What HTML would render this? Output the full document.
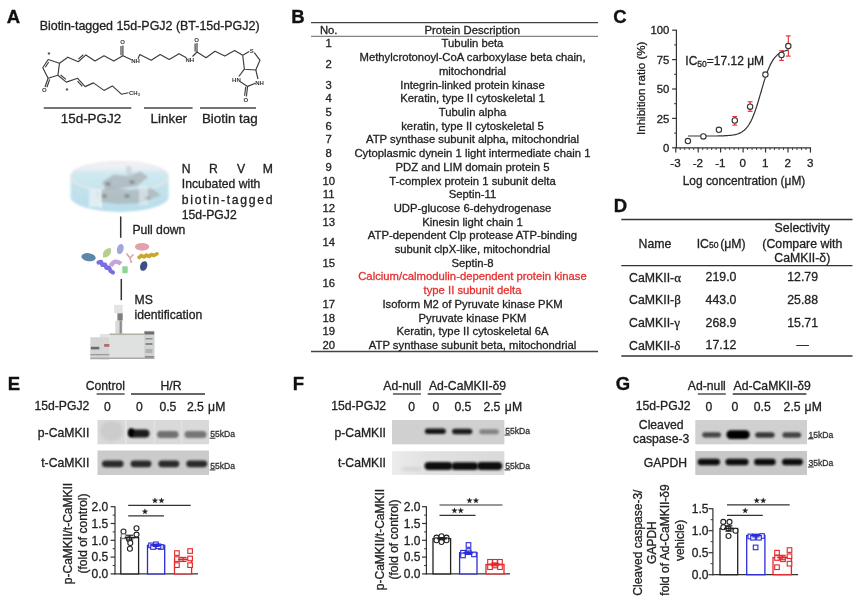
<!DOCTYPE html>
<html><head><meta charset="utf-8"><title>Figure</title>
<style>html,body{margin:0;padding:0;background:#fff;} svg{display:block;filter:blur(0.35px);}</style>
</head><body>
<svg width="861" height="612" viewBox="0 0 861 612" font-family="'Liberation Sans', Arial, sans-serif">
<defs>
<filter id="blur1" x="-30%" y="-80%" width="160%" height="260%"><feGaussianBlur stdDeviation="0.9"/></filter>
<filter id="blur2" x="-30%" y="-60%" width="160%" height="220%"><feGaussianBlur stdDeviation="3"/></filter>
<clipPath id="cE1"><rect x="97.5" y="420" width="111.5" height="24.3"/></clipPath>
<filter id="blur3" x="-20%" y="-30%" width="140%" height="160%"><feGaussianBlur stdDeviation="1.6"/></filter>
<filter id="soft" x="-20%" y="-20%" width="140%" height="140%"><feGaussianBlur stdDeviation="0.5"/></filter>
<filter id="soft2" x="-10%" y="-20%" width="120%" height="140%"><feGaussianBlur stdDeviation="0.8"/></filter>
</defs>
<rect width="861" height="612" fill="#fff"/>
<text x="6.80" y="22.90" font-size="18.5" font-weight="bold" fill="#111" stroke="#111" stroke-width="0.35">A</text>
<text x="291.20" y="22.90" font-size="18.5" font-weight="bold" fill="#111" stroke="#111" stroke-width="0.35">B</text>
<text x="613.20" y="22.70" font-size="18.5" font-weight="bold" fill="#111" stroke="#111" stroke-width="0.35">C</text>
<text x="613.80" y="211.60" font-size="18.5" font-weight="bold" fill="#111" stroke="#111" stroke-width="0.35">D</text>
<text x="7.80" y="389.70" font-size="18.5" font-weight="bold" fill="#111" stroke="#111" stroke-width="0.35">E</text>
<text x="292.80" y="389.70" font-size="18.5" font-weight="bold" fill="#111" stroke="#111" stroke-width="0.35">F</text>
<text x="615.80" y="389.50" font-size="18.5" font-weight="bold" fill="#111" stroke="#111" stroke-width="0.35">G</text>
<text x="39.70" y="29.60" font-size="12.45" fill="#222" stroke="#222" stroke-width="0.3" >Biotin-tagged 15d-PGJ2 (BT-15d-PGJ2)</text>
<polyline points="48.1,59.5 59.5,63.2 57.9,75.3 48.1,78.3 42.8,67.8 48.1,59.5" fill="none" stroke="#3c3c3c" stroke-width="1.15" stroke-linejoin="round" />
<polyline points="45.4,67.3 48.7,62.0" fill="none" stroke="#3c3c3c" stroke-width="1.15" stroke-linejoin="round" />
<polyline points="48.1,78.3 45.0,87.0" fill="none" stroke="#3c3c3c" stroke-width="1.15" stroke-linejoin="round" />
<polyline points="49.7,79.4 46.9,87.2" fill="none" stroke="#3c3c3c" stroke-width="1.15" stroke-linejoin="round" />
<polyline points="59.5,63.2 67.8,57.2 78.3,61.7 85.9,54.9 95.0,61.0 104.0,55.7 113.8,61.0 122.9,55.7 131.5,59.8" fill="none" stroke="#3c3c3c" stroke-width="1.15" stroke-linejoin="round" />
<polyline points="78.4,59.1 83.3,54.7" fill="none" stroke="#3c3c3c" stroke-width="1.15" stroke-linejoin="round" />
<polyline points="122.9,55.7 122.9,45.5" fill="none" stroke="#3c3c3c" stroke-width="1.15" stroke-linejoin="round" />
<polyline points="121.0,55.2 121.0,46.0" fill="none" stroke="#3c3c3c" stroke-width="1.15" stroke-linejoin="round" />
<polyline points="57.9,75.3 66.3,82.1 77.6,78.3 85.1,86.6 93.4,82.9 104.0,90.4 112.3,85.9 121.4,94.2 128.5,92.8" fill="none" stroke="#3c3c3c" stroke-width="1.15" stroke-linejoin="round" />
<polyline points="60.6,75.0 66.0,79.4" fill="none" stroke="#3c3c3c" stroke-width="1.15" stroke-linejoin="round" />
<polyline points="77.5,81.1 82.3,86.4" fill="none" stroke="#3c3c3c" stroke-width="1.15" stroke-linejoin="round" />
<polyline points="138.0,58.8 139.8,54.5 151.2,60.2 160.2,54.5 169.2,59.4 179.0,53.7 186.4,57.8" fill="none" stroke="#3c3c3c" stroke-width="1.15" stroke-linejoin="round" />
<polyline points="192.5,56.5 197.0,52.0 206.0,57.8 215.0,51.2 224.8,56.1 234.6,50.4 242.7,55.3" fill="none" stroke="#3c3c3c" stroke-width="1.15" stroke-linejoin="round" />
<polyline points="197.0,52.0 197.0,43.0" fill="none" stroke="#3c3c3c" stroke-width="1.15" stroke-linejoin="round" />
<polyline points="195.1,51.5 195.1,43.5" fill="none" stroke="#3c3c3c" stroke-width="1.15" stroke-linejoin="round" />
<polyline points="242.7,55.3 249.2,51.6" fill="none" stroke="#3c3c3c" stroke-width="1.15" stroke-linejoin="round" />
<polyline points="254.3,52.6 259.9,60.2 255.8,70.0 244.4,69.2 242.7,55.3" fill="none" stroke="#3c3c3c" stroke-width="1.15" stroke-linejoin="round" />
<polyline points="244.4,69.2 238.8,76.5" fill="none" stroke="#3c3c3c" stroke-width="1.15" stroke-linejoin="round" />
<polyline points="255.8,70.0 258.0,79.0" fill="none" stroke="#3c3c3c" stroke-width="1.15" stroke-linejoin="round" />
<polyline points="240.0,81.5 247.6,86.4 255.5,83.2" fill="none" stroke="#3c3c3c" stroke-width="1.15" stroke-linejoin="round" />
<polyline points="247.6,86.4 246.4,96.5" fill="none" stroke="#3c3c3c" stroke-width="1.15" stroke-linejoin="round" />
<polyline points="245.7,86.7 244.6,95.8" fill="none" stroke="#3c3c3c" stroke-width="1.15" stroke-linejoin="round" />
<text x="44.30" y="92.40" font-size="6.0" text-anchor="middle" font-weight="bold" fill="#333">O</text>
<text x="122.60" y="44.20" font-size="6.0" text-anchor="middle" font-weight="bold" fill="#333">O</text>
<text x="196.60" y="42.00" font-size="6.0" text-anchor="middle" font-weight="bold" fill="#333">O</text>
<text x="245.80" y="102.30" font-size="6.0" text-anchor="middle" font-weight="bold" fill="#333">O</text>
<text x="135.60" y="63.00" font-size="6.0" text-anchor="middle" font-weight="bold" fill="#333">NH</text>
<text x="189.80" y="62.00" font-size="6.0" text-anchor="middle" font-weight="bold" fill="#333">NH</text>
<text x="251.80" y="53.30" font-size="6.0" text-anchor="middle" font-weight="bold" fill="#333">S</text>
<text x="236.40" y="81.60" font-size="6.0" text-anchor="middle" font-weight="bold" fill="#333">HN</text>
<text x="259.60" y="84.70" font-size="6.0" text-anchor="middle" font-weight="bold" fill="#333">NH</text>
<text x="129.0" y="94.6" font-size="6" font-weight="bold" fill="#333">CH<tspan font-size="4" dy="1">3</tspan></text>
<text x="48.90" y="57.00" font-size="7.5" text-anchor="middle" font-weight="bold" fill="#333">*</text>
<text x="67.00" y="92.80" font-size="7.5" text-anchor="middle" font-weight="bold" fill="#333">*</text>
<line x1="43.80" y1="108.00" x2="131.30" y2="108.00" stroke="#444" stroke-width="1.3" />
<line x1="144.00" y1="108.00" x2="192.60" y2="108.00" stroke="#444" stroke-width="1.3" />
<line x1="200.00" y1="108.00" x2="256.00" y2="108.00" stroke="#444" stroke-width="1.3" />
<text x="60.80" y="123.00" font-size="13.4" fill="#222" stroke="#222" stroke-width="0.3" >15d-PGJ2</text>
<text x="150.60" y="122.60" font-size="13.4" fill="#222" stroke="#222" stroke-width="0.3" >Linker</text>
<text x="201.90" y="122.60" font-size="13.4" fill="#222" stroke="#222" stroke-width="0.3" >Biotin tag</text>
<defs><linearGradient id="dishTop" x1="0" x2="0" y1="0" y2="1"><stop offset="0" stop-color="#f4f1f3"/><stop offset="0.22" stop-color="#e8f1f4"/><stop offset="0.4" stop-color="#cfe8f0"/><stop offset="1" stop-color="#c6e4ee"/></linearGradient><linearGradient id="dishSide" x1="0" x2="0" y1="0" y2="1"><stop offset="0" stop-color="#cbe6ef"/><stop offset="1" stop-color="#b9deea"/></linearGradient></defs>
<g filter="url(#soft2)">
<path d="M70.6,176.5 A49,15 0 0 1 168.6,176.5 L168.6,197 A49,15 0 0 1 70.6,197 Z" fill="url(#dishSide)"/>
<ellipse cx="119.6" cy="176.5" rx="49" ry="15" fill="url(#dishTop)" stroke="#f0e6ea" stroke-width="1.2"/>
<path d="M102,182 L114,174.5 L127,176 L141,171.5 L148,177 L137,186 L121,188 L106,190 Z" fill="#a8aeb2" opacity="0.7"/>
<path d="M95,192 L112,187 L130,190 L151,188 L161,195 L141,203 L118,204 L100,202 Z" fill="#aab1b4" opacity="0.7"/>
<path d="M126,166 L131,166 L132,177 L127,178 Z" fill="#c3c9cb" opacity="0.6"/>
<ellipse cx="108" cy="184" rx="2.8" ry="2.0" fill="#858d91" opacity="0.9"/>
<ellipse cx="132" cy="182" rx="2.8" ry="2.0" fill="#858d91" opacity="0.9"/>
<ellipse cx="104" cy="196" rx="2.8" ry="2.0" fill="#858d91" opacity="0.9"/>
<ellipse cx="127" cy="196" rx="2.8" ry="2.0" fill="#858d91" opacity="0.9"/>
<ellipse cx="147" cy="198" rx="2.8" ry="2.0" fill="#858d91" opacity="0.9"/>
<rect x="89" y="189" width="12" height="18" fill="#edf4f6" opacity="0.7"/>
<rect x="100" y="190" width="1.4" height="18" fill="#ffffff" opacity="0.8"/>
<rect x="139" y="186" width="9" height="19" fill="#edf4f6" opacity="0.55"/>
</g>
<text x="181.80" y="173.00" font-size="12.2" fill="#222" stroke="#222" stroke-width="0.3" >N</text>
<text x="209.00" y="173.00" font-size="12.2" fill="#222" stroke="#222" stroke-width="0.3" >R</text>
<text x="236.90" y="173.00" font-size="12.2" fill="#222" stroke="#222" stroke-width="0.3" >V</text>
<text x="262.70" y="173.00" font-size="12.2" fill="#222" stroke="#222" stroke-width="0.3" >M</text>
<text x="181.80" y="188.30" font-size="12.2" fill="#222" stroke="#222" stroke-width="0.3" >Incubated with</text>
<text x="181.80" y="203.70" font-size="12.2" fill="#222" stroke="#222" stroke-width="0.3" letter-spacing="1.68">biotin-tagged</text>
<text x="181.80" y="218.60" font-size="12.2" fill="#222" stroke="#222" stroke-width="0.3" >15d-PGJ2</text>
<line x1="120.70" y1="216.50" x2="120.70" y2="237.80" stroke="#333" stroke-width="1.5" />
<text x="132.40" y="234.40" font-size="12.2" fill="#222" stroke="#222" stroke-width="0.3" >Pull down</text>
<g filter="url(#soft)">
<ellipse cx="88.5" cy="257.2" rx="7.2" ry="4.0" fill="#5b87a6" transform="rotate(8 88.5 257.2)"/>
<path d="M103,257.5 Q102,250 107.5,248.5 Q112,246.5 111,252 Q110,257.5 103,257.5 Z" fill="#b5d08e"/>
<ellipse cx="120.3" cy="249" rx="3.3" ry="5.2" fill="#a1a9db" transform="rotate(15 120.3 249)"/>
<ellipse cx="142.1" cy="246.8" rx="7.2" ry="3.9" fill="#e3a1ae"/>
<path d="M139,257.5 L141.5,255.5 L144,257 L146.5,255 L149,256.5 L151.5,254.5 L154,255.5 L157,253.8" stroke="#c8a72c" stroke-width="3.6" fill="none" stroke-linecap="round" stroke-linejoin="round"/>
<path d="M126.5,253.5 L130,258 L133.5,254.5 M130,258 L131.5,263" stroke="#d8a6b6" stroke-width="1.7" fill="none"/>
<path d="M98.5,262.5 L101,261.8 L102.5,265 L105,264.5 L106.5,268 L109,267.5 L110.5,271 L113,272.5" stroke="#7a6ee0" stroke-width="4.2" fill="none" stroke-linecap="round" stroke-linejoin="round"/>
<path d="M110.8,266 Q114.5,258.5 121,263.8" stroke="#c3a6d8" stroke-width="4.4" fill="none"/>
<rect x="122.3" y="266.3" width="5.4" height="7" rx="1" fill="#8fd39b"/>
<ellipse cx="143.7" cy="266" rx="3.5" ry="5.0" fill="#3e4f86" transform="rotate(20 143.7 266)"/>
</g>
<line x1="121.30" y1="279.00" x2="121.30" y2="300.20" stroke="#333" stroke-width="1.5" />
<text x="134.50" y="304.40" font-size="12.2" fill="#222" stroke="#222" stroke-width="0.3" >MS</text>
<text x="134.50" y="319.20" font-size="12.2" fill="#222" stroke="#222" stroke-width="0.3" >identification</text>
<g>
<rect x="114.20" y="304.80" width="8.50" height="8.50" fill="#e2e4e4" />
<rect x="117.40" y="313.30" width="5.30" height="7.40" fill="#7e8080" />
<rect x="115.30" y="320.70" width="7.20" height="13.50" fill="#d8dada" />
<rect x="119.60" y="320.70" width="2.20" height="13.50" fill="#8a8c8c" />
<rect x="109.40" y="333.60" width="34.60" height="25.40" fill="#dfe1e1" />
<line x1="109.40" y1="334.20" x2="144.00" y2="334.20" stroke="#9a9a88" stroke-width="1.0" />
<rect x="144.00" y="330.80" width="10.60" height="28.20" fill="#d2d4d4" />
<rect x="144.50" y="331.50" width="9.60" height="3.00" fill="#6e7070" />
<rect x="145.50" y="338.00" width="7.00" height="1.50" fill="#909090" />
<rect x="145.50" y="343.00" width="7.00" height="2.00" fill="#8a8a8a" />
<rect x="145.50" y="349.00" width="7.00" height="4.00" fill="#b0b2b2" />
<rect x="145.00" y="356.00" width="9.00" height="2.50" fill="#8a8c8c" />
<rect x="99.90" y="334.00" width="9.50" height="25.40" fill="#e8e0e2" />
<rect x="90.30" y="337.20" width="19.10" height="22.30" fill="#d4d6d6" />
<rect x="90.80" y="346.80" width="8.50" height="2.60" fill="#6a6a6a" />
<rect x="104.10" y="344.00" width="5.30" height="2.80" fill="#b76a70" />
<rect x="90.30" y="354.00" width="19.00" height="1.30" fill="#9a9a9a" />
<rect x="90.30" y="357.50" width="64.00" height="1.50" fill="#a8aaaa" />
</g>
<line x1="311.00" y1="22.70" x2="598.00" y2="22.70" stroke="#444" stroke-width="1.3" />
<line x1="311.00" y1="36.30" x2="598.00" y2="36.30" stroke="#666" stroke-width="1.0" />
<line x1="311.00" y1="351.60" x2="598.00" y2="351.60" stroke="#444" stroke-width="1.5" />
<text x="328.70" y="34.30" font-size="11.3" text-anchor="middle" fill="#222" stroke="#222" stroke-width="0.3" >No.</text>
<text x="472.30" y="34.30" font-size="11.3" text-anchor="middle" fill="#222" stroke="#222" stroke-width="0.3" >Protein Description</text>
<text x="328.70" y="47.40" font-size="11.3" text-anchor="middle" fill="#222" stroke="#222" stroke-width="0.3" >1</text>
<text x="472.50" y="47.40" font-size="11.3" text-anchor="middle" fill="#222" stroke="#222" stroke-width="0.3" >Tubulin beta</text>
<text x="328.70" y="67.97" font-size="11.3" text-anchor="middle" fill="#222" stroke="#222" stroke-width="0.3" >2</text>
<text x="472.50" y="61.11" font-size="11.3" text-anchor="middle" fill="#222" stroke="#222" stroke-width="0.3" >Methylcrotonoyl-CoA carboxylase beta chain,</text>
<text x="472.50" y="74.82" font-size="11.3" text-anchor="middle" fill="#222" stroke="#222" stroke-width="0.3" >mitochondrial</text>
<text x="328.70" y="88.53" font-size="11.3" text-anchor="middle" fill="#222" stroke="#222" stroke-width="0.3" >3</text>
<text x="472.50" y="88.53" font-size="11.3" text-anchor="middle" fill="#222" stroke="#222" stroke-width="0.3" >Integrin-linked protein kinase</text>
<text x="328.70" y="102.24" font-size="11.3" text-anchor="middle" fill="#222" stroke="#222" stroke-width="0.3" >4</text>
<text x="472.50" y="102.24" font-size="11.3" text-anchor="middle" fill="#222" stroke="#222" stroke-width="0.3" >Keratin, type II cytoskeletal 1</text>
<text x="328.70" y="115.95" font-size="11.3" text-anchor="middle" fill="#222" stroke="#222" stroke-width="0.3" >5</text>
<text x="472.50" y="115.95" font-size="11.3" text-anchor="middle" fill="#222" stroke="#222" stroke-width="0.3" >Tubulin alpha</text>
<text x="328.70" y="129.66" font-size="11.3" text-anchor="middle" fill="#222" stroke="#222" stroke-width="0.3" >6</text>
<text x="472.50" y="129.66" font-size="11.3" text-anchor="middle" fill="#222" stroke="#222" stroke-width="0.3" >keratin, type II cytoskeletal 5</text>
<text x="328.70" y="143.37" font-size="11.3" text-anchor="middle" fill="#222" stroke="#222" stroke-width="0.3" >7</text>
<text x="472.50" y="143.37" font-size="11.3" text-anchor="middle" fill="#222" stroke="#222" stroke-width="0.3" >ATP synthase subunit alpha, mitochondrial</text>
<text x="328.70" y="157.08" font-size="11.3" text-anchor="middle" fill="#222" stroke="#222" stroke-width="0.3" >8</text>
<text x="472.50" y="157.08" font-size="11.3" text-anchor="middle" fill="#222" stroke="#222" stroke-width="0.3" >Cytoplasmic dynein 1 light intermediate chain 1</text>
<text x="328.70" y="170.79" font-size="11.3" text-anchor="middle" fill="#222" stroke="#222" stroke-width="0.3" >9</text>
<text x="472.50" y="170.79" font-size="11.3" text-anchor="middle" fill="#222" stroke="#222" stroke-width="0.3" >PDZ and LIM domain protein 5</text>
<text x="328.70" y="184.50" font-size="11.3" text-anchor="middle" fill="#222" stroke="#222" stroke-width="0.3" >10</text>
<text x="472.50" y="184.50" font-size="11.3" text-anchor="middle" fill="#222" stroke="#222" stroke-width="0.3" >T-complex protein 1 subunit delta</text>
<text x="328.70" y="198.21" font-size="11.3" text-anchor="middle" fill="#222" stroke="#222" stroke-width="0.3" >11</text>
<text x="472.50" y="198.21" font-size="11.3" text-anchor="middle" fill="#222" stroke="#222" stroke-width="0.3" >Septin-11</text>
<text x="328.70" y="211.92" font-size="11.3" text-anchor="middle" fill="#222" stroke="#222" stroke-width="0.3" >12</text>
<text x="472.50" y="211.92" font-size="11.3" text-anchor="middle" fill="#222" stroke="#222" stroke-width="0.3" >UDP-glucose 6-dehydrogenase</text>
<text x="328.70" y="225.63" font-size="11.3" text-anchor="middle" fill="#222" stroke="#222" stroke-width="0.3" >13</text>
<text x="472.50" y="225.63" font-size="11.3" text-anchor="middle" fill="#222" stroke="#222" stroke-width="0.3" >Kinesin light chain 1</text>
<text x="328.70" y="246.20" font-size="11.3" text-anchor="middle" fill="#222" stroke="#222" stroke-width="0.3" >14</text>
<text x="472.50" y="239.34" font-size="11.3" text-anchor="middle" fill="#222" stroke="#222" stroke-width="0.3" >ATP-dependent Clp protease ATP-binding</text>
<text x="472.50" y="253.05" font-size="11.3" text-anchor="middle" fill="#222" stroke="#222" stroke-width="0.3" >subunit clpX-like, mitochondrial</text>
<text x="328.70" y="266.76" font-size="11.3" text-anchor="middle" fill="#222" stroke="#222" stroke-width="0.3" >15</text>
<text x="472.50" y="266.76" font-size="11.3" text-anchor="middle" fill="#222" stroke="#222" stroke-width="0.3" >Septin-8</text>
<text x="328.70" y="287.33" font-size="11.3" text-anchor="middle" fill="#222" stroke="#222" stroke-width="0.3" >16</text>
<text x="472.50" y="280.47" font-size="11.3" text-anchor="middle" fill="#e5302f" stroke="#e5302f" stroke-width="0.3" >Calcium/calmodulin-dependent protein kinase</text>
<text x="472.50" y="294.18" font-size="11.3" text-anchor="middle" fill="#e5302f" stroke="#e5302f" stroke-width="0.3" >type II subunit delta</text>
<text x="328.70" y="307.89" font-size="11.3" text-anchor="middle" fill="#222" stroke="#222" stroke-width="0.3" >17</text>
<text x="472.50" y="307.89" font-size="11.3" text-anchor="middle" fill="#222" stroke="#222" stroke-width="0.3" >Isoform M2 of Pyruvate kinase PKM</text>
<text x="328.70" y="321.60" font-size="11.3" text-anchor="middle" fill="#222" stroke="#222" stroke-width="0.3" >18</text>
<text x="472.50" y="321.60" font-size="11.3" text-anchor="middle" fill="#222" stroke="#222" stroke-width="0.3" >Pyruvate kinase PKM</text>
<text x="328.70" y="335.31" font-size="11.3" text-anchor="middle" fill="#222" stroke="#222" stroke-width="0.3" >19</text>
<text x="472.50" y="335.31" font-size="11.3" text-anchor="middle" fill="#222" stroke="#222" stroke-width="0.3" >Keratin, type II cytoskeletal 6A</text>
<text x="328.70" y="349.02" font-size="11.3" text-anchor="middle" fill="#222" stroke="#222" stroke-width="0.3" >20</text>
<text x="472.50" y="349.02" font-size="11.3" text-anchor="middle" fill="#222" stroke="#222" stroke-width="0.3" >ATP synthase subunit beta, mitochondrial</text>
<line x1="676.40" y1="29.70" x2="676.40" y2="147.80" stroke="#333" stroke-width="1.2" />
<line x1="672.10" y1="147.80" x2="676.40" y2="147.80" stroke="#333" stroke-width="1.2" />
<text x="669.40" y="151.90" font-size="11.3" text-anchor="end" fill="#222" stroke="#222" stroke-width="0.3" >0</text>
<line x1="672.10" y1="118.40" x2="676.40" y2="118.40" stroke="#333" stroke-width="1.2" />
<text x="669.40" y="122.50" font-size="11.3" text-anchor="end" fill="#222" stroke="#222" stroke-width="0.3" >25</text>
<line x1="672.10" y1="89.00" x2="676.40" y2="89.00" stroke="#333" stroke-width="1.2" />
<text x="669.40" y="93.10" font-size="11.3" text-anchor="end" fill="#222" stroke="#222" stroke-width="0.3" >50</text>
<line x1="672.10" y1="59.60" x2="676.40" y2="59.60" stroke="#333" stroke-width="1.2" />
<text x="669.40" y="63.70" font-size="11.3" text-anchor="end" fill="#222" stroke="#222" stroke-width="0.3" >75</text>
<line x1="672.10" y1="30.20" x2="676.40" y2="30.20" stroke="#333" stroke-width="1.2" />
<text x="669.40" y="34.30" font-size="11.3" text-anchor="end" fill="#222" stroke="#222" stroke-width="0.3" >100</text>
<line x1="674.10" y1="133.10" x2="676.40" y2="133.10" stroke="#333" stroke-width="1.0" />
<line x1="674.10" y1="103.70" x2="676.40" y2="103.70" stroke="#333" stroke-width="1.0" />
<line x1="674.10" y1="74.30" x2="676.40" y2="74.30" stroke="#333" stroke-width="1.0" />
<line x1="674.10" y1="44.90" x2="676.40" y2="44.90" stroke="#333" stroke-width="1.0" />
<line x1="675.80" y1="147.80" x2="811.05" y2="147.80" stroke="#333" stroke-width="1.2" />
<line x1="675.75" y1="147.80" x2="675.75" y2="152.60" stroke="#333" stroke-width="1.2" />
<text x="675.45" y="167.40" font-size="11.6" text-anchor="middle" fill="#222" stroke="#222" stroke-width="0.3" >-3</text>
<line x1="698.20" y1="147.80" x2="698.20" y2="152.60" stroke="#333" stroke-width="1.2" />
<text x="697.90" y="167.40" font-size="11.6" text-anchor="middle" fill="#222" stroke="#222" stroke-width="0.3" >-2</text>
<line x1="720.65" y1="147.80" x2="720.65" y2="152.60" stroke="#333" stroke-width="1.2" />
<text x="720.35" y="167.40" font-size="11.6" text-anchor="middle" fill="#222" stroke="#222" stroke-width="0.3" >-1</text>
<line x1="743.10" y1="147.80" x2="743.10" y2="152.60" stroke="#333" stroke-width="1.2" />
<text x="742.80" y="167.40" font-size="11.6" text-anchor="middle" fill="#222" stroke="#222" stroke-width="0.3" >0</text>
<line x1="765.55" y1="147.80" x2="765.55" y2="152.60" stroke="#333" stroke-width="1.2" />
<text x="765.25" y="167.40" font-size="11.6" text-anchor="middle" fill="#222" stroke="#222" stroke-width="0.3" >1</text>
<line x1="788.00" y1="147.80" x2="788.00" y2="152.60" stroke="#333" stroke-width="1.2" />
<text x="787.70" y="167.40" font-size="11.6" text-anchor="middle" fill="#222" stroke="#222" stroke-width="0.3" >2</text>
<line x1="810.45" y1="147.80" x2="810.45" y2="152.60" stroke="#333" stroke-width="1.2" />
<text x="810.15" y="167.40" font-size="11.6" text-anchor="middle" fill="#222" stroke="#222" stroke-width="0.3" >3</text>
<line x1="680.24" y1="147.80" x2="680.24" y2="150.00" stroke="#333" stroke-width="0.9" />
<line x1="684.73" y1="147.80" x2="684.73" y2="150.00" stroke="#333" stroke-width="0.9" />
<line x1="689.22" y1="147.80" x2="689.22" y2="150.00" stroke="#333" stroke-width="0.9" />
<line x1="693.71" y1="147.80" x2="693.71" y2="150.00" stroke="#333" stroke-width="0.9" />
<line x1="702.69" y1="147.80" x2="702.69" y2="150.00" stroke="#333" stroke-width="0.9" />
<line x1="707.18" y1="147.80" x2="707.18" y2="150.00" stroke="#333" stroke-width="0.9" />
<line x1="711.67" y1="147.80" x2="711.67" y2="150.00" stroke="#333" stroke-width="0.9" />
<line x1="716.16" y1="147.80" x2="716.16" y2="150.00" stroke="#333" stroke-width="0.9" />
<line x1="725.14" y1="147.80" x2="725.14" y2="150.00" stroke="#333" stroke-width="0.9" />
<line x1="729.63" y1="147.80" x2="729.63" y2="150.00" stroke="#333" stroke-width="0.9" />
<line x1="734.12" y1="147.80" x2="734.12" y2="150.00" stroke="#333" stroke-width="0.9" />
<line x1="738.61" y1="147.80" x2="738.61" y2="150.00" stroke="#333" stroke-width="0.9" />
<line x1="747.59" y1="147.80" x2="747.59" y2="150.00" stroke="#333" stroke-width="0.9" />
<line x1="752.08" y1="147.80" x2="752.08" y2="150.00" stroke="#333" stroke-width="0.9" />
<line x1="756.57" y1="147.80" x2="756.57" y2="150.00" stroke="#333" stroke-width="0.9" />
<line x1="761.06" y1="147.80" x2="761.06" y2="150.00" stroke="#333" stroke-width="0.9" />
<line x1="770.04" y1="147.80" x2="770.04" y2="150.00" stroke="#333" stroke-width="0.9" />
<line x1="774.53" y1="147.80" x2="774.53" y2="150.00" stroke="#333" stroke-width="0.9" />
<line x1="779.02" y1="147.80" x2="779.02" y2="150.00" stroke="#333" stroke-width="0.9" />
<line x1="783.51" y1="147.80" x2="783.51" y2="150.00" stroke="#333" stroke-width="0.9" />
<line x1="792.49" y1="147.80" x2="792.49" y2="150.00" stroke="#333" stroke-width="0.9" />
<line x1="796.98" y1="147.80" x2="796.98" y2="150.00" stroke="#333" stroke-width="0.9" />
<line x1="801.47" y1="147.80" x2="801.47" y2="150.00" stroke="#333" stroke-width="0.9" />
<line x1="805.96" y1="147.80" x2="805.96" y2="150.00" stroke="#333" stroke-width="0.9" />
<text x="744.00" y="185.30" font-size="11.9" text-anchor="middle" fill="#222" stroke="#222" stroke-width="0.3" >Log concentration (μM)</text>
<text x="0.00" y="0.00" font-size="11.6" text-anchor="middle" fill="#222" stroke="#222" stroke-width="0.3" transform="translate(645.2 88.3) rotate(-90)">Inhibition ratio (%)</text>
<polyline points="688.1,136.0 689.2,136.0 690.3,136.0 691.5,136.0 692.6,136.0 693.7,136.0 694.8,136.0 696.0,136.0 697.1,136.0 698.2,136.0 699.3,136.0 700.4,136.0 701.6,136.0 702.7,136.0 703.8,136.0 704.9,136.0 706.1,136.0 707.2,136.0 708.3,136.0 709.4,136.0 710.5,136.0 711.7,136.0 712.8,136.0 713.9,136.0 715.0,136.0 716.2,136.0 717.3,136.0 718.4,135.9 719.5,135.9 720.6,135.9 721.8,135.9 722.9,135.8 724.0,135.8 725.1,135.7 726.3,135.7 727.4,135.6 728.5,135.5 729.6,135.4 730.8,135.3 731.9,135.2 733.0,135.0 734.1,134.8 735.2,134.6 736.4,134.3 737.5,134.0 738.6,133.6 739.7,133.1 740.9,132.6 742.0,131.9 743.1,131.1 744.2,130.2 745.3,129.2 746.5,128.0 747.6,126.6 748.7,125.0 749.8,123.1 751.0,121.1 752.1,118.7 753.2,116.1 754.3,113.2 755.4,110.1 756.6,106.7 757.7,103.2 758.8,99.5 759.9,95.6 761.1,91.8 762.2,87.9 763.3,84.1 764.4,80.4 765.6,76.9 766.7,73.7 767.8,70.6 768.9,67.9 770.0,65.4 771.2,63.1 772.3,61.1 773.4,59.4 774.5,57.9 775.7,56.6 776.8,55.4 777.9,54.4 779.0,53.6 780.1,52.9 781.3,52.3 782.4,51.8 783.5,51.3 784.6,51.0 785.8,50.6 786.9,50.4 788.0,50.2" fill="none" stroke="#333" stroke-width="1.2" stroke-linejoin="round" />
<line x1="734.80" y1="116.60" x2="734.80" y2="125.10" stroke="#e3262c" stroke-width="1.1" />
<line x1="732.40" y1="116.60" x2="737.20" y2="116.60" stroke="#e3262c" stroke-width="1.1" />
<line x1="732.40" y1="125.10" x2="737.20" y2="125.10" stroke="#e3262c" stroke-width="1.1" />
<line x1="750.10" y1="101.80" x2="750.10" y2="111.30" stroke="#e3262c" stroke-width="1.1" />
<line x1="747.70" y1="101.80" x2="752.50" y2="101.80" stroke="#e3262c" stroke-width="1.1" />
<line x1="747.70" y1="111.30" x2="752.50" y2="111.30" stroke="#e3262c" stroke-width="1.1" />
<line x1="781.50" y1="50.80" x2="781.50" y2="60.40" stroke="#e3262c" stroke-width="1.1" />
<line x1="779.10" y1="50.80" x2="783.90" y2="50.80" stroke="#e3262c" stroke-width="1.1" />
<line x1="779.10" y1="60.40" x2="783.90" y2="60.40" stroke="#e3262c" stroke-width="1.1" />
<line x1="788.30" y1="35.90" x2="788.30" y2="56.10" stroke="#e3262c" stroke-width="1.1" />
<line x1="785.90" y1="35.90" x2="790.70" y2="35.90" stroke="#e3262c" stroke-width="1.1" />
<line x1="785.90" y1="56.10" x2="790.70" y2="56.10" stroke="#e3262c" stroke-width="1.1" />
<circle cx="687.9" cy="141.1" r="2.7" fill="#fff" stroke="#333" stroke-width="1.1"/>
<circle cx="703.4" cy="136.4" r="2.7" fill="#fff" stroke="#333" stroke-width="1.1"/>
<circle cx="718.9" cy="129.8" r="2.7" fill="#fff" stroke="#333" stroke-width="1.1"/>
<circle cx="734.8" cy="120.5" r="2.7" fill="#fff" stroke="#333" stroke-width="1.1"/>
<circle cx="750.1" cy="106.7" r="2.7" fill="#fff" stroke="#333" stroke-width="1.1"/>
<circle cx="765.4" cy="74.6" r="2.7" fill="#fff" stroke="#333" stroke-width="1.1"/>
<circle cx="781.5" cy="55" r="2.7" fill="#fff" stroke="#333" stroke-width="1.1"/>
<circle cx="788.3" cy="46.1" r="2.7" fill="#fff" stroke="#333" stroke-width="1.1"/>
<text x="685.3" y="65.0" font-size="12" fill="#222" stroke="#222" stroke-width="0.3">IC<tspan font-size="8.5" dy="2.2">50</tspan><tspan dy="-2.2">=17.12 μM</tspan></text>
<line x1="621.30" y1="219.60" x2="852.50" y2="219.60" stroke="#333" stroke-width="1.5" />
<line x1="621.30" y1="265.60" x2="852.50" y2="265.60" stroke="#333" stroke-width="1.2" />
<line x1="621.30" y1="356.00" x2="852.50" y2="356.00" stroke="#333" stroke-width="1.6" />
<text x="655.00" y="247.60" font-size="12.3" text-anchor="middle" fill="#222" stroke="#222" stroke-width="0.3" >Name</text>
<text x="696.7" y="247.6" font-size="12.3" fill="#222" stroke="#222" stroke-width="0.3">IC<tspan font-size="8.6" dy="0.6">50</tspan><tspan dx="1.6" dy="-0.6">(μM)</tspan></text>
<text x="802.30" y="232.30" font-size="12.3" text-anchor="middle" fill="#222" stroke="#222" stroke-width="0.3" >Selectivity</text>
<text x="802.30" y="247.50" font-size="12.3" text-anchor="middle" fill="#222" stroke="#222" stroke-width="0.3" >(Compare with</text>
<text x="802.30" y="262.20" font-size="12.3" text-anchor="middle" fill="#222" stroke="#222" stroke-width="0.3" >CaMKII-δ)</text>
<text x="629.1" y="281.70" font-size="12.3" fill="#222" stroke="#222" stroke-width="0.3">CaMKII-<tspan font-family="'Liberation Serif', 'Times New Roman', serif" font-size="13">α</tspan></text>
<text x="721.00" y="281.00" font-size="12.3" text-anchor="middle" fill="#222" stroke="#222" stroke-width="0.3" >219.0</text>
<text x="802.60" y="281.00" font-size="12.3" text-anchor="middle" fill="#222" stroke="#222" stroke-width="0.3" >12.79</text>
<text x="629.1" y="304.45" font-size="12.3" fill="#222" stroke="#222" stroke-width="0.3">CaMKII-<tspan font-family="'Liberation Serif', 'Times New Roman', serif" font-size="13">β</tspan></text>
<text x="721.00" y="303.75" font-size="12.3" text-anchor="middle" fill="#222" stroke="#222" stroke-width="0.3" >443.0</text>
<text x="802.60" y="303.75" font-size="12.3" text-anchor="middle" fill="#222" stroke="#222" stroke-width="0.3" >25.88</text>
<text x="629.1" y="327.20" font-size="12.3" fill="#222" stroke="#222" stroke-width="0.3">CaMKII-<tspan font-family="'Liberation Serif', 'Times New Roman', serif" font-size="13">γ</tspan></text>
<text x="721.00" y="326.50" font-size="12.3" text-anchor="middle" fill="#222" stroke="#222" stroke-width="0.3" >268.9</text>
<text x="802.60" y="326.50" font-size="12.3" text-anchor="middle" fill="#222" stroke="#222" stroke-width="0.3" >15.71</text>
<text x="629.1" y="349.95" font-size="12.3" fill="#222" stroke="#222" stroke-width="0.3">CaMKII-<tspan font-family="'Liberation Serif', 'Times New Roman', serif" font-size="13">δ</tspan></text>
<text x="721.00" y="349.25" font-size="12.3" text-anchor="middle" fill="#222" stroke="#222" stroke-width="0.3" >17.12</text>
<text x="802.60" y="349.25" font-size="12.3" text-anchor="middle" fill="#222" stroke="#222" stroke-width="0.3" >—</text>
<text x="125.00" y="389.50" font-size="12.2" text-anchor="end" fill="#222" stroke="#222" stroke-width="0.3" >Control</text>
<line x1="96.60" y1="394.00" x2="124.60" y2="394.00" stroke="#333" stroke-width="1.3" />
<text x="171.00" y="389.50" font-size="12.2" text-anchor="middle" fill="#222" stroke="#222" stroke-width="0.3" >H/R</text>
<line x1="131.00" y1="394.00" x2="205.00" y2="394.00" stroke="#333" stroke-width="1.3" />
<text x="89.30" y="410.30" font-size="12.2" text-anchor="end" fill="#222" stroke="#222" stroke-width="0.3" >15d-PGJ2</text>
<text x="107.40" y="411.00" font-size="12.2" text-anchor="middle" fill="#222" stroke="#222" stroke-width="0.3" >0</text>
<text x="139.30" y="411.00" font-size="12.2" text-anchor="middle" fill="#222" stroke="#222" stroke-width="0.3" >0</text>
<text x="167.90" y="411.00" font-size="12.2" text-anchor="middle" fill="#222" stroke="#222" stroke-width="0.3" >0.5</text>
<text x="195.40" y="411.00" font-size="12.2" text-anchor="middle" fill="#222" stroke="#222" stroke-width="0.3" >2.5</text>
<text x="207.90" y="411.00" font-size="12.2" fill="#222" stroke="#222" stroke-width="0.3" letter-spacing="0.25">μM</text>
<text x="89.30" y="436.80" font-size="12.2" text-anchor="end" fill="#222" stroke="#222" stroke-width="0.3" >p-CaMKII</text>
<text x="89.30" y="466.80" font-size="12.2" text-anchor="end" fill="#222" stroke="#222" stroke-width="0.3" >t-CaMKII</text>
<rect x="97.50" y="420.00" width="111.50" height="24.30" fill="#d9d9d9" />
<rect x="124.50" y="420.00" width="2.50" height="24.30" fill="#e2e2e2" />
<rect x="153.50" y="420.00" width="2.00" height="24.30" fill="#e0e0e0" />
<rect x="180.50" y="420.00" width="2.00" height="24.30" fill="#e0e0e0" />
<g clip-path="url(#cE1)">
<rect x="100.0" y="421.0" width="23.0" height="20.0" rx="10.0" fill="#cccccc" opacity="1.0" filter="url(#blur3)"/>
</g>
<rect x="97.50" y="450.50" width="111.50" height="24.50" fill="#cbcbcb" />
<rect x="128.5" y="429.6" width="21.0" height="8.0" rx="4.0" fill="#1c1c1c" opacity="1.0" filter="url(#blur1)"/>
<rect x="128.2" y="428.2" width="5.8" height="8.5" rx="4.2" fill="#050505" opacity="1.0" filter="url(#blur1)"/>
<rect x="157.0" y="431.1" width="21.5" height="7.0" rx="3.5" fill="#707070" opacity="1.0" filter="url(#blur1)"/>
<rect x="184.5" y="431.1" width="22.0" height="7.0" rx="3.5" fill="#767676" opacity="1.0" filter="url(#blur1)"/>
<rect x="102.0" y="460.4" width="21.6" height="6.8" rx="3.4" fill="#2a2a2a" opacity="1.0" filter="url(#blur1)"/>
<rect x="130.6" y="460.4" width="20.8" height="6.8" rx="3.4" fill="#2a2a2a" opacity="1.0" filter="url(#blur1)"/>
<rect x="158.4" y="460.4" width="20.9" height="6.8" rx="3.4" fill="#2a2a2a" opacity="1.0" filter="url(#blur1)"/>
<rect x="186.3" y="460.4" width="20.9" height="6.8" rx="3.4" fill="#2a2a2a" opacity="1.0" filter="url(#blur1)"/>
<text x="210.20" y="437.00" font-size="8.6" fill="#333" stroke="#333" stroke-width="0.3" >55kDa</text>
<line x1="209.60" y1="438.20" x2="215.40" y2="438.20" stroke="#333" stroke-width="1.1" />
<text x="210.20" y="468.70" font-size="8.6" fill="#333" stroke="#333" stroke-width="0.3" >55kDa</text>
<line x1="209.60" y1="469.90" x2="215.40" y2="469.90" stroke="#333" stroke-width="1.1" />
<line x1="115.00" y1="506.20" x2="115.00" y2="574.50" stroke="#333" stroke-width="1.2" />
<line x1="114.40" y1="573.90" x2="198.00" y2="573.90" stroke="#333" stroke-width="1.2" />
<line x1="110.60" y1="573.90" x2="115.00" y2="573.90" stroke="#333" stroke-width="1.2" />
<text x="108.30" y="578.20" font-size="12.0" text-anchor="end" fill="#222" stroke="#222" stroke-width="0.3" >0.0</text>
<line x1="110.60" y1="557.10" x2="115.00" y2="557.10" stroke="#333" stroke-width="1.2" />
<text x="108.30" y="561.40" font-size="12.0" text-anchor="end" fill="#222" stroke="#222" stroke-width="0.3" >0.5</text>
<line x1="110.60" y1="540.30" x2="115.00" y2="540.30" stroke="#333" stroke-width="1.2" />
<text x="108.30" y="544.60" font-size="12.0" text-anchor="end" fill="#222" stroke="#222" stroke-width="0.3" >1.0</text>
<line x1="110.60" y1="523.50" x2="115.00" y2="523.50" stroke="#333" stroke-width="1.2" />
<text x="108.30" y="527.80" font-size="12.0" text-anchor="end" fill="#222" stroke="#222" stroke-width="0.3" >1.5</text>
<line x1="110.60" y1="506.70" x2="115.00" y2="506.70" stroke="#333" stroke-width="1.2" />
<text x="108.30" y="511.00" font-size="12.0" text-anchor="end" fill="#222" stroke="#222" stroke-width="0.3" >2.0</text>
<line x1="112.70" y1="565.50" x2="115.00" y2="565.50" stroke="#333" stroke-width="1.0" />
<line x1="112.70" y1="548.70" x2="115.00" y2="548.70" stroke="#333" stroke-width="1.0" />
<line x1="112.70" y1="531.90" x2="115.00" y2="531.90" stroke="#333" stroke-width="1.0" />
<line x1="112.70" y1="515.10" x2="115.00" y2="515.10" stroke="#333" stroke-width="1.0" />
<rect x="120.80" y="537.61" width="17.80" height="36.29" fill="#fff" stroke="#222" stroke-width="1.3"/>
<rect x="147.50" y="545.34" width="17.20" height="28.56" fill="#fff" stroke="#2b2bd9" stroke-width="1.3"/>
<rect x="174.50" y="559.45" width="17.10" height="14.45" fill="#fff" stroke="#e3262c" stroke-width="1.3"/>
<line x1="128.20" y1="505.40" x2="190.70" y2="505.40" stroke="#333" stroke-width="1.2" />
<text x="158.30" y="503.20" font-size="7.2" text-anchor="middle" font-family="DejaVu Sans, sans-serif" fill="#1a1a1a" stroke="#1a1a1a" stroke-width="0.25">★★</text>
<line x1="128.20" y1="515.80" x2="164.00" y2="515.80" stroke="#333" stroke-width="1.2" />
<text x="144.90" y="513.60" font-size="7.2" text-anchor="middle" font-family="DejaVu Sans, sans-serif" fill="#1a1a1a" stroke="#1a1a1a" stroke-width="0.25">★</text>
<circle cx="123.50" cy="531.56" r="2.5" fill="#fff" stroke="#222" stroke-width="1.1"/>
<circle cx="136.50" cy="528.20" r="2.5" fill="#fff" stroke="#222" stroke-width="1.1"/>
<circle cx="136.50" cy="534.59" r="2.5" fill="#fff" stroke="#222" stroke-width="1.1"/>
<circle cx="129.10" cy="539.29" r="2.5" fill="#fff" stroke="#222" stroke-width="1.1"/>
<circle cx="130.30" cy="542.99" r="2.5" fill="#fff" stroke="#222" stroke-width="1.1"/>
<circle cx="129.90" cy="548.70" r="2.5" fill="#fff" stroke="#222" stroke-width="1.1"/>
<rect x="121.20" y="533.97" width="4.6" height="4.6" fill="#fff" fill-opacity="0.9" stroke="#777" stroke-width="1.1"/>
<rect x="148.70" y="543.04" width="4.6" height="4.6" fill="#fff" fill-opacity="0.9" stroke="#2b2bd9" stroke-width="1.1"/>
<rect x="153.70" y="542.03" width="4.6" height="4.6" fill="#fff" fill-opacity="0.9" stroke="#2b2bd9" stroke-width="1.1"/>
<rect x="158.70" y="544.72" width="4.6" height="4.6" fill="#fff" fill-opacity="0.9" stroke="#2b2bd9" stroke-width="1.1"/>
<rect x="150.70" y="544.72" width="4.6" height="4.6" fill="#fff" fill-opacity="0.9" stroke="#2b2bd9" stroke-width="1.1"/>
<rect x="156.20" y="544.05" width="4.6" height="4.6" fill="#fff" fill-opacity="0.9" stroke="#2b2bd9" stroke-width="1.1"/>
<rect x="174.60" y="550.77" width="4.6" height="4.6" fill="#fff" fill-opacity="0.9" stroke="#e3262c" stroke-width="1.1"/>
<rect x="187.80" y="548.75" width="4.6" height="4.6" fill="#fff" fill-opacity="0.9" stroke="#e3262c" stroke-width="1.1"/>
<rect x="174.60" y="556.82" width="4.6" height="4.6" fill="#fff" fill-opacity="0.9" stroke="#e3262c" stroke-width="1.1"/>
<rect x="187.80" y="556.14" width="4.6" height="4.6" fill="#fff" fill-opacity="0.9" stroke="#e3262c" stroke-width="1.1"/>
<rect x="174.60" y="562.86" width="4.6" height="4.6" fill="#fff" fill-opacity="0.9" stroke="#e3262c" stroke-width="1.1"/>
<rect x="187.80" y="562.86" width="4.6" height="4.6" fill="#fff" fill-opacity="0.9" stroke="#e3262c" stroke-width="1.1"/>
<line x1="129.70" y1="535.26" x2="129.70" y2="539.96" stroke="#222" stroke-width="1.2" />
<line x1="126.20" y1="535.26" x2="133.20" y2="535.26" stroke="#222" stroke-width="1.2" />
<line x1="126.20" y1="539.96" x2="133.20" y2="539.96" stroke="#222" stroke-width="1.2" />
<line x1="124.70" y1="537.61" x2="134.70" y2="537.61" stroke="#222" stroke-width="1.6" />
<line x1="156.10" y1="544.33" x2="156.10" y2="546.35" stroke="#2b2bd9" stroke-width="1.2" />
<line x1="152.60" y1="544.33" x2="159.60" y2="544.33" stroke="#2b2bd9" stroke-width="1.2" />
<line x1="152.60" y1="546.35" x2="159.60" y2="546.35" stroke="#2b2bd9" stroke-width="1.2" />
<line x1="151.10" y1="545.34" x2="161.10" y2="545.34" stroke="#2b2bd9" stroke-width="1.6" />
<line x1="183.05" y1="557.44" x2="183.05" y2="561.47" stroke="#e3262c" stroke-width="1.2" />
<line x1="179.55" y1="557.44" x2="186.55" y2="557.44" stroke="#e3262c" stroke-width="1.2" />
<line x1="179.55" y1="561.47" x2="186.55" y2="561.47" stroke="#e3262c" stroke-width="1.2" />
<line x1="178.05" y1="559.45" x2="188.05" y2="559.45" stroke="#e3262c" stroke-width="1.6" />
<text x="0.00" y="0.00" font-size="12.0" text-anchor="middle" fill="#222" stroke="#222" stroke-width="0.3" transform="translate(72.0 533.5) rotate(-90)">p-CaMKII/t-CaMKII</text>
<text x="0.00" y="0.00" font-size="12.0" text-anchor="middle" fill="#222" stroke="#222" stroke-width="0.3" transform="translate(87.2 533.5) rotate(-90)">(fold of control)</text>
<text x="421.20" y="389.50" font-size="12.2" text-anchor="end" fill="#222" stroke="#222" stroke-width="0.3" >Ad-null</text>
<line x1="393.00" y1="394.00" x2="420.90" y2="394.00" stroke="#333" stroke-width="1.3" />
<text x="428.90" y="389.50" font-size="12.2" fill="#222" stroke="#222" stroke-width="0.3" >Ad-CaMKII-δ9</text>
<line x1="427.70" y1="394.00" x2="501.40" y2="394.00" stroke="#333" stroke-width="1.3" />
<text x="386.00" y="410.30" font-size="12.2" text-anchor="end" fill="#222" stroke="#222" stroke-width="0.3" >15d-PGJ2</text>
<text x="411.70" y="411.00" font-size="12.2" text-anchor="middle" fill="#222" stroke="#222" stroke-width="0.3" >0</text>
<text x="435.90" y="411.00" font-size="12.2" text-anchor="middle" fill="#222" stroke="#222" stroke-width="0.3" >0</text>
<text x="462.90" y="411.00" font-size="12.2" text-anchor="middle" fill="#222" stroke="#222" stroke-width="0.3" >0.5</text>
<text x="491.90" y="411.00" font-size="12.2" text-anchor="middle" fill="#222" stroke="#222" stroke-width="0.3" >2.5</text>
<text x="504.80" y="411.00" font-size="12.2" fill="#222" stroke="#222" stroke-width="0.3" letter-spacing="0.2">μM</text>
<text x="386.00" y="436.80" font-size="12.2" text-anchor="end" fill="#222" stroke="#222" stroke-width="0.3" >p-CaMKII</text>
<text x="386.00" y="466.80" font-size="12.2" text-anchor="end" fill="#222" stroke="#222" stroke-width="0.3" >t-CaMKII</text>
<rect x="392.00" y="420.00" width="112.40" height="24.30" fill="#d0d0d0" />
<defs><linearGradient id="gF2" x1="0" x2="1" y1="0" y2="0"><stop offset="0" stop-color="#ececec"/><stop offset="0.3" stop-color="#e2e2e2"/><stop offset="1" stop-color="#d9d9d9"/></linearGradient></defs>
<rect x="392.00" y="451.20" width="112.40" height="23.70" fill="url(#gF2)" />
<rect x="402.0" y="467.0" width="20.0" height="4.0" rx="2.0" fill="#d6d6d6" opacity="1.0" filter="url(#blur3)"/>
<rect x="424.9" y="428.6" width="20.9" height="5.4" rx="2.7" fill="#141414" opacity="1.0" filter="url(#blur1)"/>
<rect x="452.1" y="428.8" width="20.2" height="5.4" rx="2.7" fill="#1e1e1e" opacity="1.0" filter="url(#blur1)"/>
<rect x="479.3" y="429.3" width="19.5" height="5.0" rx="2.5" fill="#828282" opacity="1.0" filter="url(#blur1)"/>
<rect x="424.5" y="461.9" width="28.0" height="8.2" rx="4.1" fill="#0c0c0c" opacity="1.0" filter="url(#blur1)"/>
<rect x="451.5" y="462.3" width="26.5" height="7.8" rx="3.9" fill="#0c0c0c" opacity="1.0" filter="url(#blur1)"/>
<rect x="477.0" y="462.0" width="25.3" height="8.0" rx="4.0" fill="#101010" opacity="1.0" filter="url(#blur1)"/>
<text x="505.20" y="433.80" font-size="8.6" fill="#333" stroke="#333" stroke-width="0.3" >55kDa</text>
<line x1="504.60" y1="435.00" x2="510.40" y2="435.00" stroke="#333" stroke-width="1.1" />
<text x="505.20" y="468.70" font-size="8.6" fill="#333" stroke="#333" stroke-width="0.3" >55kDa</text>
<line x1="504.60" y1="469.90" x2="510.40" y2="469.90" stroke="#333" stroke-width="1.1" />
<line x1="426.40" y1="506.20" x2="426.40" y2="574.50" stroke="#333" stroke-width="1.2" />
<line x1="425.80" y1="573.90" x2="510.00" y2="573.90" stroke="#333" stroke-width="1.2" />
<line x1="422.00" y1="573.90" x2="426.40" y2="573.90" stroke="#333" stroke-width="1.2" />
<text x="420.40" y="578.20" font-size="12.0" text-anchor="end" fill="#222" stroke="#222" stroke-width="0.3" >0.0</text>
<line x1="422.00" y1="557.10" x2="426.40" y2="557.10" stroke="#333" stroke-width="1.2" />
<text x="420.40" y="561.40" font-size="12.0" text-anchor="end" fill="#222" stroke="#222" stroke-width="0.3" >0.5</text>
<line x1="422.00" y1="540.30" x2="426.40" y2="540.30" stroke="#333" stroke-width="1.2" />
<text x="420.40" y="544.60" font-size="12.0" text-anchor="end" fill="#222" stroke="#222" stroke-width="0.3" >1.0</text>
<line x1="422.00" y1="523.50" x2="426.40" y2="523.50" stroke="#333" stroke-width="1.2" />
<text x="420.40" y="527.80" font-size="12.0" text-anchor="end" fill="#222" stroke="#222" stroke-width="0.3" >1.5</text>
<line x1="422.00" y1="506.70" x2="426.40" y2="506.70" stroke="#333" stroke-width="1.2" />
<text x="420.40" y="511.00" font-size="12.0" text-anchor="end" fill="#222" stroke="#222" stroke-width="0.3" >2.0</text>
<line x1="424.10" y1="565.50" x2="426.40" y2="565.50" stroke="#333" stroke-width="1.0" />
<line x1="424.10" y1="548.70" x2="426.40" y2="548.70" stroke="#333" stroke-width="1.0" />
<line x1="424.10" y1="531.90" x2="426.40" y2="531.90" stroke="#333" stroke-width="1.0" />
<line x1="424.10" y1="515.10" x2="426.40" y2="515.10" stroke="#333" stroke-width="1.0" />
<rect x="433.00" y="538.62" width="17.60" height="35.28" fill="#fff" stroke="#222" stroke-width="1.3"/>
<rect x="459.60" y="552.73" width="17.40" height="21.17" fill="#fff" stroke="#2b2bd9" stroke-width="1.3"/>
<rect x="486.00" y="564.49" width="18.00" height="9.41" fill="#fff" stroke="#e3262c" stroke-width="1.3"/>
<line x1="439.50" y1="505.00" x2="502.50" y2="505.00" stroke="#333" stroke-width="1.2" />
<text x="472.80" y="502.80" font-size="7.2" text-anchor="middle" font-family="DejaVu Sans, sans-serif" fill="#1a1a1a" stroke="#1a1a1a" stroke-width="0.25">★★</text>
<line x1="439.50" y1="515.40" x2="475.50" y2="515.40" stroke="#333" stroke-width="1.2" />
<text x="457.60" y="513.20" font-size="7.2" text-anchor="middle" font-family="DejaVu Sans, sans-serif" fill="#1a1a1a" stroke="#1a1a1a" stroke-width="0.25">★★</text>
<circle cx="436.50" cy="537.61" r="2.5" fill="#fff" stroke="#222" stroke-width="1.1"/>
<circle cx="441.50" cy="536.27" r="2.5" fill="#fff" stroke="#222" stroke-width="1.1"/>
<circle cx="446.50" cy="537.61" r="2.5" fill="#fff" stroke="#222" stroke-width="1.1"/>
<circle cx="436.50" cy="540.30" r="2.5" fill="#fff" stroke="#222" stroke-width="1.1"/>
<circle cx="446.50" cy="540.30" r="2.5" fill="#fff" stroke="#222" stroke-width="1.1"/>
<circle cx="441.50" cy="541.98" r="2.5" fill="#fff" stroke="#222" stroke-width="1.1"/>
<rect x="466.20" y="542.70" width="4.6" height="4.6" fill="#fff" fill-opacity="0.9" stroke="#2b2bd9" stroke-width="1.1"/>
<rect x="460.70" y="550.43" width="4.6" height="4.6" fill="#fff" fill-opacity="0.9" stroke="#2b2bd9" stroke-width="1.1"/>
<rect x="471.70" y="552.11" width="4.6" height="4.6" fill="#fff" fill-opacity="0.9" stroke="#2b2bd9" stroke-width="1.1"/>
<rect x="466.20" y="548.75" width="4.6" height="4.6" fill="#fff" fill-opacity="0.9" stroke="#2b2bd9" stroke-width="1.1"/>
<rect x="460.70" y="553.12" width="4.6" height="4.6" fill="#fff" fill-opacity="0.9" stroke="#2b2bd9" stroke-width="1.1"/>
<rect x="487.70" y="559.50" width="4.6" height="4.6" fill="#fff" fill-opacity="0.9" stroke="#e3262c" stroke-width="1.1"/>
<rect x="492.70" y="559.50" width="4.6" height="4.6" fill="#fff" fill-opacity="0.9" stroke="#e3262c" stroke-width="1.1"/>
<rect x="497.70" y="559.50" width="4.6" height="4.6" fill="#fff" fill-opacity="0.9" stroke="#e3262c" stroke-width="1.1"/>
<rect x="487.70" y="564.88" width="4.6" height="4.6" fill="#fff" fill-opacity="0.9" stroke="#e3262c" stroke-width="1.1"/>
<rect x="497.70" y="564.88" width="4.6" height="4.6" fill="#fff" fill-opacity="0.9" stroke="#e3262c" stroke-width="1.1"/>
<rect x="492.70" y="563.20" width="4.6" height="4.6" fill="#fff" fill-opacity="0.9" stroke="#e3262c" stroke-width="1.1"/>
<line x1="441.80" y1="537.61" x2="441.80" y2="539.63" stroke="#222" stroke-width="1.2" />
<line x1="438.30" y1="537.61" x2="445.30" y2="537.61" stroke="#222" stroke-width="1.2" />
<line x1="438.30" y1="539.63" x2="445.30" y2="539.63" stroke="#222" stroke-width="1.2" />
<line x1="436.80" y1="538.62" x2="446.80" y2="538.62" stroke="#222" stroke-width="1.6" />
<line x1="468.30" y1="551.05" x2="468.30" y2="554.41" stroke="#2b2bd9" stroke-width="1.2" />
<line x1="464.80" y1="551.05" x2="471.80" y2="551.05" stroke="#2b2bd9" stroke-width="1.2" />
<line x1="464.80" y1="554.41" x2="471.80" y2="554.41" stroke="#2b2bd9" stroke-width="1.2" />
<line x1="463.30" y1="552.73" x2="473.30" y2="552.73" stroke="#2b2bd9" stroke-width="1.6" />
<line x1="495.00" y1="563.15" x2="495.00" y2="565.84" stroke="#e3262c" stroke-width="1.2" />
<line x1="491.50" y1="563.15" x2="498.50" y2="563.15" stroke="#e3262c" stroke-width="1.2" />
<line x1="491.50" y1="565.84" x2="498.50" y2="565.84" stroke="#e3262c" stroke-width="1.2" />
<line x1="490.00" y1="564.49" x2="500.00" y2="564.49" stroke="#e3262c" stroke-width="1.6" />
<text x="0.00" y="0.00" font-size="12.0" text-anchor="middle" fill="#222" stroke="#222" stroke-width="0.3" transform="translate(383.6 539.5) rotate(-90)">p-CaMKII/t-CaMKII</text>
<text x="0.00" y="0.00" font-size="12.0" text-anchor="middle" fill="#222" stroke="#222" stroke-width="0.3" transform="translate(398.0 539.5) rotate(-90)">(fold of control)</text>
<text x="725.80" y="389.50" font-size="12.2" text-anchor="end" fill="#222" stroke="#222" stroke-width="0.3" >Ad-null</text>
<line x1="697.90" y1="394.00" x2="725.80" y2="394.00" stroke="#333" stroke-width="1.3" />
<text x="733.60" y="389.50" font-size="12.2" fill="#222" stroke="#222" stroke-width="0.3" >Ad-CaMKII-δ9</text>
<line x1="732.70" y1="394.00" x2="806.40" y2="394.00" stroke="#333" stroke-width="1.3" />
<text x="690.60" y="410.30" font-size="12.2" text-anchor="end" fill="#222" stroke="#222" stroke-width="0.3" >15d-PGJ2</text>
<text x="709.00" y="411.00" font-size="12.2" text-anchor="middle" fill="#222" stroke="#222" stroke-width="0.3" >0</text>
<text x="735.00" y="411.00" font-size="12.2" text-anchor="middle" fill="#222" stroke="#222" stroke-width="0.3" >0</text>
<text x="762.30" y="411.00" font-size="12.2" text-anchor="middle" fill="#222" stroke="#222" stroke-width="0.3" >0.5</text>
<text x="792.10" y="411.00" font-size="12.2" text-anchor="middle" fill="#222" stroke="#222" stroke-width="0.3" >2.5</text>
<text x="804.50" y="411.00" font-size="12.2" fill="#222" stroke="#222" stroke-width="0.3" letter-spacing="0.2">μM</text>
<text x="661.20" y="428.90" font-size="12.2" text-anchor="middle" fill="#222" stroke="#222" stroke-width="0.3" >Cleaved</text>
<text x="661.20" y="443.40" font-size="12.2" text-anchor="middle" fill="#222" stroke="#222" stroke-width="0.3" >caspase-3</text>
<text x="665.40" y="466.80" font-size="12.2" text-anchor="middle" fill="#222" stroke="#222" stroke-width="0.3" >GAPDH</text>
<rect x="695.30" y="420.00" width="111.70" height="24.30" fill="#d0d0d0" />
<rect x="695.30" y="451.00" width="111.70" height="24.00" fill="#c8c8c8" />
<rect x="702.2" y="432.2" width="18.8" height="5.2" rx="2.6" fill="#454545" opacity="1.0" filter="url(#blur1)"/>
<rect x="726.4" y="430.3" width="23.4" height="8.6" rx="4.3" fill="#030303" opacity="1.0" filter="url(#blur1)"/>
<rect x="755.2" y="432.3" width="19.4" height="5.4" rx="2.7" fill="#383838" opacity="1.0" filter="url(#blur1)"/>
<rect x="782.4" y="432.3" width="18.7" height="5.4" rx="2.7" fill="#424242" opacity="1.0" filter="url(#blur1)"/>
<rect x="697.7" y="458.8" width="22.3" height="6.5" rx="3.2" fill="#0c0c0c" opacity="1.0" filter="url(#blur1)"/>
<rect x="725.5" y="458.8" width="23.0" height="6.5" rx="3.2" fill="#0c0c0c" opacity="1.0" filter="url(#blur1)"/>
<rect x="754.1" y="458.8" width="21.6" height="6.5" rx="3.2" fill="#0c0c0c" opacity="1.0" filter="url(#blur1)"/>
<rect x="782.0" y="458.8" width="20.9" height="6.5" rx="3.2" fill="#0c0c0c" opacity="1.0" filter="url(#blur1)"/>
<text x="808.50" y="437.60" font-size="8.6" fill="#333" stroke="#333" stroke-width="0.3" >15kDa</text>
<line x1="807.90" y1="438.80" x2="813.70" y2="438.80" stroke="#333" stroke-width="1.1" />
<text x="808.50" y="465.80" font-size="8.6" fill="#333" stroke="#333" stroke-width="0.3" >35kDa</text>
<line x1="807.90" y1="467.00" x2="813.70" y2="467.00" stroke="#333" stroke-width="1.1" />
<line x1="712.90" y1="508.20" x2="712.90" y2="575.30" stroke="#333" stroke-width="1.2" />
<line x1="712.30" y1="574.70" x2="798.00" y2="574.70" stroke="#333" stroke-width="1.2" />
<line x1="708.50" y1="574.70" x2="712.90" y2="574.70" stroke="#333" stroke-width="1.2" />
<text x="708.50" y="579.00" font-size="12.0" text-anchor="end" fill="#222" stroke="#222" stroke-width="0.3" >0.0</text>
<line x1="708.50" y1="552.70" x2="712.90" y2="552.70" stroke="#333" stroke-width="1.2" />
<text x="708.50" y="557.00" font-size="12.0" text-anchor="end" fill="#222" stroke="#222" stroke-width="0.3" >0.5</text>
<line x1="708.50" y1="530.70" x2="712.90" y2="530.70" stroke="#333" stroke-width="1.2" />
<text x="708.50" y="535.00" font-size="12.0" text-anchor="end" fill="#222" stroke="#222" stroke-width="0.3" >1.0</text>
<line x1="708.50" y1="508.70" x2="712.90" y2="508.70" stroke="#333" stroke-width="1.2" />
<text x="708.50" y="513.00" font-size="12.0" text-anchor="end" fill="#222" stroke="#222" stroke-width="0.3" >1.5</text>
<line x1="710.60" y1="563.70" x2="712.90" y2="563.70" stroke="#333" stroke-width="1.0" />
<line x1="710.60" y1="541.70" x2="712.90" y2="541.70" stroke="#333" stroke-width="1.0" />
<line x1="710.60" y1="519.70" x2="712.90" y2="519.70" stroke="#333" stroke-width="1.0" />
<rect x="720.00" y="528.50" width="17.70" height="46.20" fill="#fff" stroke="#222" stroke-width="1.3"/>
<rect x="746.70" y="535.54" width="18.20" height="39.16" fill="#fff" stroke="#2b2bd9" stroke-width="1.3"/>
<rect x="773.00" y="557.54" width="18.40" height="17.16" fill="#fff" stroke="#e3262c" stroke-width="1.3"/>
<line x1="727.00" y1="504.90" x2="789.70" y2="504.90" stroke="#333" stroke-width="1.2" />
<text x="760.00" y="502.70" font-size="7.2" text-anchor="middle" font-family="DejaVu Sans, sans-serif" fill="#1a1a1a" stroke="#1a1a1a" stroke-width="0.25">★★</text>
<line x1="727.00" y1="515.40" x2="762.80" y2="515.40" stroke="#333" stroke-width="1.2" />
<text x="745.30" y="513.20" font-size="7.2" text-anchor="middle" font-family="DejaVu Sans, sans-serif" fill="#1a1a1a" stroke="#1a1a1a" stroke-width="0.25">★</text>
<circle cx="723.30" cy="521.90" r="2.5" fill="#fff" stroke="#222" stroke-width="1.1"/>
<circle cx="729.50" cy="521.90" r="2.5" fill="#fff" stroke="#222" stroke-width="1.1"/>
<circle cx="735.50" cy="530.70" r="2.5" fill="#fff" stroke="#222" stroke-width="1.1"/>
<circle cx="723.30" cy="527.18" r="2.5" fill="#fff" stroke="#222" stroke-width="1.1"/>
<circle cx="728.50" cy="528.50" r="2.5" fill="#fff" stroke="#222" stroke-width="1.1"/>
<circle cx="728.50" cy="535.98" r="2.5" fill="#fff" stroke="#222" stroke-width="1.1"/>
<rect x="748.00" y="534.12" width="4.6" height="4.6" fill="#fff" fill-opacity="0.9" stroke="#2b2bd9" stroke-width="1.1"/>
<rect x="753.70" y="534.56" width="4.6" height="4.6" fill="#fff" fill-opacity="0.9" stroke="#2b2bd9" stroke-width="1.1"/>
<rect x="759.70" y="533.68" width="4.6" height="4.6" fill="#fff" fill-opacity="0.9" stroke="#2b2bd9" stroke-width="1.1"/>
<rect x="750.70" y="535.44" width="4.6" height="4.6" fill="#fff" fill-opacity="0.9" stroke="#2b2bd9" stroke-width="1.1"/>
<rect x="756.70" y="535.44" width="4.6" height="4.6" fill="#fff" fill-opacity="0.9" stroke="#2b2bd9" stroke-width="1.1"/>
<rect x="753.30" y="545.12" width="4.6" height="4.6" fill="#fff" fill-opacity="0.9" stroke="#2b2bd9" stroke-width="1.1"/>
<rect x="774.70" y="550.40" width="4.6" height="4.6" fill="#fff" fill-opacity="0.9" stroke="#e3262c" stroke-width="1.1"/>
<rect x="787.20" y="547.76" width="4.6" height="4.6" fill="#fff" fill-opacity="0.9" stroke="#e3262c" stroke-width="1.1"/>
<rect x="774.70" y="555.68" width="4.6" height="4.6" fill="#fff" fill-opacity="0.9" stroke="#e3262c" stroke-width="1.1"/>
<rect x="787.20" y="553.92" width="4.6" height="4.6" fill="#fff" fill-opacity="0.9" stroke="#e3262c" stroke-width="1.1"/>
<rect x="780.70" y="557.00" width="4.6" height="4.6" fill="#fff" fill-opacity="0.9" stroke="#e3262c" stroke-width="1.1"/>
<rect x="774.70" y="564.92" width="4.6" height="4.6" fill="#fff" fill-opacity="0.9" stroke="#e3262c" stroke-width="1.1"/>
<rect x="787.20" y="561.40" width="4.6" height="4.6" fill="#fff" fill-opacity="0.9" stroke="#e3262c" stroke-width="1.1"/>
<line x1="728.85" y1="525.86" x2="728.85" y2="531.14" stroke="#222" stroke-width="1.2" />
<line x1="725.35" y1="525.86" x2="732.35" y2="525.86" stroke="#222" stroke-width="1.2" />
<line x1="725.35" y1="531.14" x2="732.35" y2="531.14" stroke="#222" stroke-width="1.2" />
<line x1="723.85" y1="528.50" x2="733.85" y2="528.50" stroke="#222" stroke-width="1.6" />
<line x1="755.80" y1="534.22" x2="755.80" y2="536.86" stroke="#2b2bd9" stroke-width="1.2" />
<line x1="752.30" y1="534.22" x2="759.30" y2="534.22" stroke="#2b2bd9" stroke-width="1.2" />
<line x1="752.30" y1="536.86" x2="759.30" y2="536.86" stroke="#2b2bd9" stroke-width="1.2" />
<line x1="750.80" y1="535.54" x2="760.80" y2="535.54" stroke="#2b2bd9" stroke-width="1.6" />
<line x1="782.20" y1="555.34" x2="782.20" y2="559.74" stroke="#e3262c" stroke-width="1.2" />
<line x1="778.70" y1="555.34" x2="785.70" y2="555.34" stroke="#e3262c" stroke-width="1.2" />
<line x1="778.70" y1="559.74" x2="785.70" y2="559.74" stroke="#e3262c" stroke-width="1.2" />
<line x1="777.20" y1="557.54" x2="787.20" y2="557.54" stroke="#e3262c" stroke-width="1.6" />
<text x="0.00" y="0.00" font-size="12.0" text-anchor="middle" fill="#222" stroke="#222" stroke-width="0.3" transform="translate(642.0 542.6) rotate(-90)">Cleaved caspase-3/</text>
<text x="0.00" y="0.00" font-size="12.0" text-anchor="middle" fill="#222" stroke="#222" stroke-width="0.3" transform="translate(656.3 542.6) rotate(-90)">GAPDH</text>
<text x="0.00" y="0.00" font-size="12.0" text-anchor="middle" fill="#222" stroke="#222" stroke-width="0.3" transform="translate(669.4 540.0) rotate(-90)">fold of Ad-CaMKII-δ9</text>
<text x="0.00" y="0.00" font-size="12.0" text-anchor="middle" fill="#222" stroke="#222" stroke-width="0.3" transform="translate(684.0 540.4) rotate(-90)">vehicle)</text>
</svg>
</body></html>
